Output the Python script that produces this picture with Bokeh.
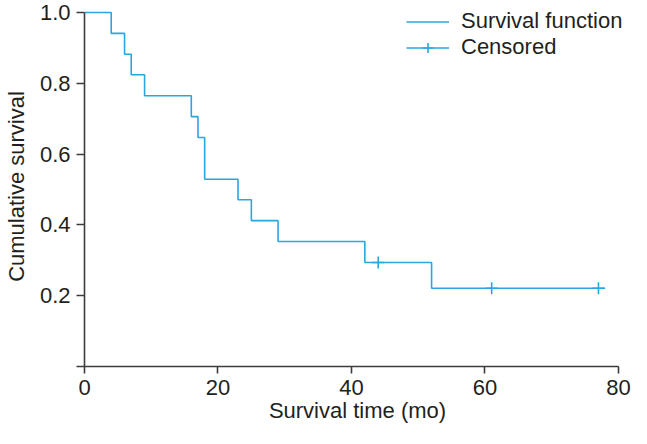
from bokeh.plotting import figure
from bokeh.models import Legend, LegendItem, FixedTicker, Range1d
from bokeh.embed import file_html
from bokeh.resources import INLINE

# Kaplan-Meier step data (time in months, cumulative survival)
step_times = [0, 4, 6, 7, 9, 16, 17, 18, 23, 25, 29, 42, 52, 78]
step_surv = [1.0, 0.941, 0.882, 0.824, 0.765, 0.706, 0.647, 0.529, 0.471, 0.412, 0.353, 0.294, 0.221, 0.221]

# Censored observations
cens_times = [44, 61, 77]
cens_surv = [0.294, 0.221, 0.221]

x_ticks = [0, 20, 40, 60, 80]
y_ticks = [0, 0.2, 0.4, 0.6, 0.8, 1.0]
y_tick_labels = ["", "0.2", "0.4", "0.6", "0.8", "1.0"]

BLUE = "#29a6de"
TEXT = "#231f20"
AXIS = "#3c3c3c"
FONT = "Liberation Sans"

p = figure(width=631, height=428, output_backend="svg", toolbar_location=None,
           x_range=Range1d(0, 81.8), y_range=Range1d(0, 1.017),
           min_border_left=84, min_border_right=1, min_border_top=6, min_border_bottom=62)
p.outline_line_color = None
p.xgrid.visible = False
p.ygrid.visible = False

step_r = p.step(step_times, step_surv, mode="after", line_color=BLUE, line_width=1.6)
cens_r = p.scatter(cens_times, cens_surv, marker="cross", size=12, line_color=BLUE, line_width=1.6)

for ax in (p.xaxis[0], p.yaxis[0]):
    ax.axis_line_color = AXIS
    ax.axis_line_width = 1.6
    ax.major_tick_line_color = AXIS
    ax.major_tick_line_width = 1.6
    ax.minor_tick_line_color = None
    ax.major_tick_in = 0
    ax.major_label_text_font = FONT
    ax.major_label_text_font_size = "22px"
    ax.major_label_text_color = TEXT
    ax.axis_label_text_font = FONT
    ax.axis_label_text_font_size = "22px"
    ax.axis_label_text_color = TEXT
    ax.axis_label_text_font_style = "normal"

p.xaxis.ticker = FixedTicker(ticks=x_ticks)
p.xaxis.bounds = (0, 80)
p.xaxis.major_tick_out = 7
p.xaxis.major_label_standoff = 6
p.xaxis.axis_label = "Survival time (mo)"
p.xaxis.axis_label_standoff = 0

p.yaxis.ticker = FixedTicker(ticks=y_ticks)
p.yaxis.bounds = (0, 1.0)
p.yaxis.major_tick_out = 8
p.yaxis.major_label_standoff = 6
p.yaxis.major_label_overrides = {t: lab for t, lab in zip(y_ticks, y_tick_labels)}
p.yaxis.axis_label = "Cumulative survival"
p.yaxis.axis_label_standoff = 8

legend = Legend(items=[LegendItem(label="Survival function", renderers=[step_r]),
                       LegendItem(label="Censored", renderers=[step_r, cens_r])],
                location=(322, 306), padding=0, spacing=0, margin=0,
                glyph_width=43, glyph_height=25, label_height=25, label_standoff=12,
                label_text_font=FONT, label_text_font_size="22px", label_text_color=TEXT,
                border_line_color=None, background_fill_alpha=0)
p.add_layout(legend)

open("out.html", "w").write(file_html(p, INLINE))
